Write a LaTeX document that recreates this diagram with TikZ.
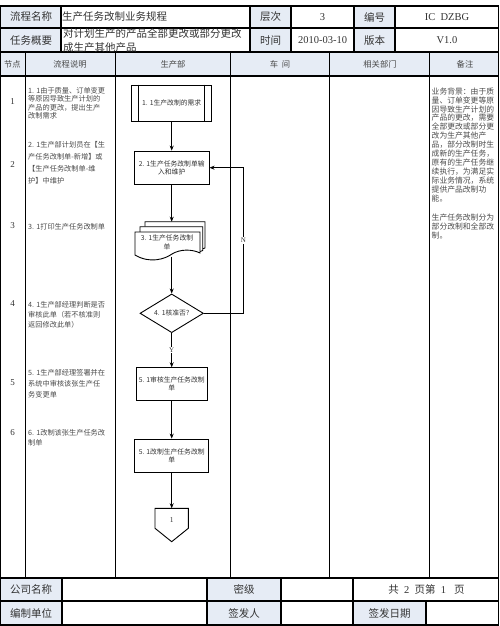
\documentclass[tikz,border=0pt]{standalone}
\usepackage{fontspec}
\setmainfont{Liberation Serif}
\newfontfamily\cjk{Noto Sans CJK SC}
\usetikzlibrary{arrows.meta,shapes.geometric}
\definecolor{hdr}{HTML}{E6ECF5}
\definecolor{txt}{HTML}{333333}
\definecolor{small}{HTML}{4A4A4A}
\begin{document}
\begin{tikzpicture}[x=1pt,y=-1pt,
  grid/.style={line width=1.1pt,black},
  lane/.style={line width=1pt,black},
  big/.style={inner sep=0pt,text=txt,font=\cjk\fontsize{10.5}{12}\selectfont},
  val/.style={inner sep=0pt,text=txt,font=\fontsize{10.5}{12}\selectfont},
  head/.style={inner sep=0pt,text=small,font=\cjk\fontsize{8.3}{10}\selectfont},
  num/.style={inner sep=0pt,text=txt,font=\fontsize{9}{10}\selectfont},
  desc/.style={inner sep=0pt,text=small,align=left,anchor=north west},
  note/.style={inner sep=0pt,text=small,align=left,anchor=north west,font=\cjk\fontsize{7.8}{8.9}\selectfont},
  box/.style={draw,line width=0.9pt,inner sep=1pt,align=center,text=txt,font=\cjk\fontsize{6.8}{8.5}\selectfont},
  flow/.style={line width=0.9pt,-{Stealth[length=5pt,width=4pt]}},
  tag/.style={fill=white,inner sep=1pt,text=txt,font=\fontsize{7}{8}\selectfont}
]
\useasboundingbox (0,0) rectangle (499,626);
% fills
\fill[hdr] (0,6) rectangle (61,52);
\fill[hdr] (250,6) rectangle (291,52);
\fill[hdr] (354,6) rectangle (395,52);
\fill[hdr] (0,52) rectangle (499,76);
\fill[hdr] (0,578) rectangle (62,625);
\fill[hdr] (207,578) rectangle (281,625);
\fill[hdr] (353,601) rectangle (426,625);
% top table lines
\draw[grid] (0,28) -- (499,28);
\draw[grid] (0,52) -- (499,52);
\draw[grid] (0,76) -- (499,76);
\foreach \x in {61,250,291,354,395} \draw[grid] (\x,6) -- (\x,52);
% lanes
\foreach \x in {25,115,230,329,429} \draw[lane] (\x,52) -- (\x,578);
% footer lines
\draw[grid] (0,578) -- (499,578);
\draw[grid] (0,601) -- (499,601);
\foreach \x in {62,207,281,353} \draw[grid] (\x,578) -- (\x,625);
\draw[grid] (426,601) -- (426,625);
% outer border
\draw[grid] (0.6,6) rectangle (498.4,625);

% top table text
\node[big] (l1) at (31,17) {流程名称};
\node[big,anchor=west] (v1) at (62,17) {生产任务改制业务规程};
\node[big] (l2) at (270.5,17) {层次};
\node[val] (v2) at (322.5,17) {3};
\node[big] (l3) at (374.5,17) {编号};
\node[val] (v3) at (447,17) {IC~~DZBG};
\node[big] (l4) at (31,40.5) {任务概要};
\node[big,anchor=north west,align=left,font=\cjk\fontsize{10.5}{14.4}\selectfont] (v4) at (63,28.3) {对计划生产的产品全部更改或部分更改\\成生产其他产品};
\node[big] (l5) at (270.5,40.5) {时间};
\node[val] (v5) at (322.5,40.5) {2010-03-10};
\node[big] (l6) at (374.5,40.5) {版本};
\node[val] (v6) at (447,40.5) {V1.0};

% header row
\node[head] (h1) at (12.5,64) {节点};
\node[head] (h2) at (70,64) {流程说明};
\node[head] (h3) at (173,64) {生产部};
\node[head] (h4) at (280,64) {车\ \ 间};
\node[head] (h5) at (380,64) {相关部门};
\node[head] (h6) at (465,64) {备注};

% node numbers
\node[num] (k1) at (12.5,101.7) {1};
\node[num] (k2) at (12.5,165) {2};
\node[num] (k3) at (12.5,226) {3};
\node[num] (k4) at (12.5,304) {4};
\node[num] (k5) at (12.5,383) {5};
\node[num] (k6) at (12.5,433) {6};

% descriptions
\node[desc,font=\cjk\fontsize{7.2}{8.4}\selectfont] (d1) at (28,87) {1. 1由于质量、订单变更\\等原因导致生产计划的\\产品的更改，提出生产\\改制需求};
\node[desc,font=\cjk\fontsize{7.2}{12}\selectfont] (d2) at (28,141.5) {2. 1生产部计划员在【生\\产任务改制单-新增】或\\【生产任务改制单-维\\护】中维护};
\node[desc,font=\cjk\fontsize{7.2}{9}\selectfont] (d3) at (28,223.5) {3. 1打印生产任务改制单};
\node[desc,font=\cjk\fontsize{7.2}{10}\selectfont] (d4) at (28,301.5) {4. 1生产部经理判断是否\\审核此单（若不核准则\\返回修改此单）};
\node[desc,font=\cjk\fontsize{7.2}{11}\selectfont] (d5) at (28,369.5) {5. 1生产部经理签署并在\\系统中审核该张生产任\\务变更单};
\node[desc,font=\cjk\fontsize{7.2}{9.6}\selectfont] (d6) at (28,429.5) {6. 1改制该张生产任务改\\制单};

% remarks
\node[note] (r1) at (431.5,87.5) {业务背景：由于质\\量、订单变更等原\\因导致生产计划的\\产品的更改，需要\\全部更改或部分更\\改为生产其他产\\品，部分改制时生\\成新的生产任务，\\原有的生产任务继\\续执行，为满足实\\际业务情况，系统\\提供产品改制功\\能。};
\node[note] (r2) at (431.5,213.5) {生产任务改制分为\\部分改制和全部改\\制。};

% flow nodes
\node[box,minimum width=80pt,minimum height=36.7pt] (b1) at (171.7,103.3) {1. 1生产改制的需求};
\draw[line width=0.9pt] ([xshift=7.6pt]b1.north west) -- ([xshift=7.6pt]b1.south west);
\draw[line width=0.9pt] ([xshift=-7.6pt]b1.north east) -- ([xshift=-7.6pt]b1.south east);
\node[box,minimum width=74.7pt,minimum height=33.3pt] (b2) at (171.7,167.7) {2. 1生产任务改制单输\\入和维护};

% multi-document
\draw[line width=0.9pt,fill=white] (145,226.7) -- (145,221.7) -- (205,221.7) -- (205,248) -- (202.7,248.8);
\draw[line width=0.9pt,fill=white] (140,232) -- (140,226.7) -- (202.7,226.7) -- (202.7,250.5) -- (200,251.6);
\draw[line width=0.9pt,fill=white] (135,255) -- (135,232) -- (200,232) -- (200,253)
  .. controls (192,249) and (180,249) .. (172,254)
  .. controls (165,259) and (150,264) .. (135,255) -- cycle;
\node[inner sep=0pt,align=center,text=txt,font=\cjk\fontsize{6.8}{8.5}\selectfont] (doc) at (167,242.5) {3. 1生产任务改制\\单};
\coordinate (docTop) at (171.7,221.7);
\coordinate (docBot) at (171.7,256.5);

\node[draw,diamond,line width=0.9pt,inner sep=0pt,aspect=1.64,minimum width=63.4pt,minimum height=38.7pt,text=txt,font=\cjk\fontsize{6.8}{8.5}\selectfont] (dia) at (171.7,313.3) {4. 1核准否?};
\node[box,minimum width=70.7pt,minimum height=32.3pt] (b5) at (171.7,383.9) {5. 1审核生产任务改制\\单};
\node[box,minimum width=73.7pt,minimum height=33.3pt] (b6) at (171.7,455.7) {5. 1改制生产任务改制\\单};

% off-page connector
\draw[line width=0.9pt] (155,508.3) -- (188.3,508.3) -- (188.3,528.3) -- (171.7,541.7) -- (155,528.3) -- cycle;
\node[inner sep=0pt,text=txt,font=\fontsize{7.5}{9}\selectfont] (off) at (171.7,520.5) {1};
\coordinate (offTop) at (171.7,508.3);
\coordinate (nx) at (243.3,0);

% connectors
\draw[flow] (b1.south) -- (b2.north);
\draw[flow] (b2.south) -- (docTop);
\draw[flow] (docBot) -- (dia.north);
\draw[flow] (dia.south) -- node[tag] (yl) {Y} (b5.north);
\draw[flow] (b5.south) -- (b6.north);
\draw[flow] (b6.south) -- (offTop);
\draw[flow] (dia.east) -- (dia.east -| nx) |- node[tag,pos=0.25] (nl) {N} (b2.east);

% footer text
\node[big] (f1) at (31,589.5) {公司名称};
\node[big] (f2) at (244,589.5) {密级};
\node[val] (f3) at (426.5,589.5) {{\cjk 共}~~2~~{\cjk 页第}~~1~~~{\cjk 页}};
\node[big] (f4) at (31,613) {编制单位};
\node[big] (f5) at (244,613) {签发人};
\node[big] (f6) at (389.5,613) {签发日期};
\end{tikzpicture}
\end{document}
